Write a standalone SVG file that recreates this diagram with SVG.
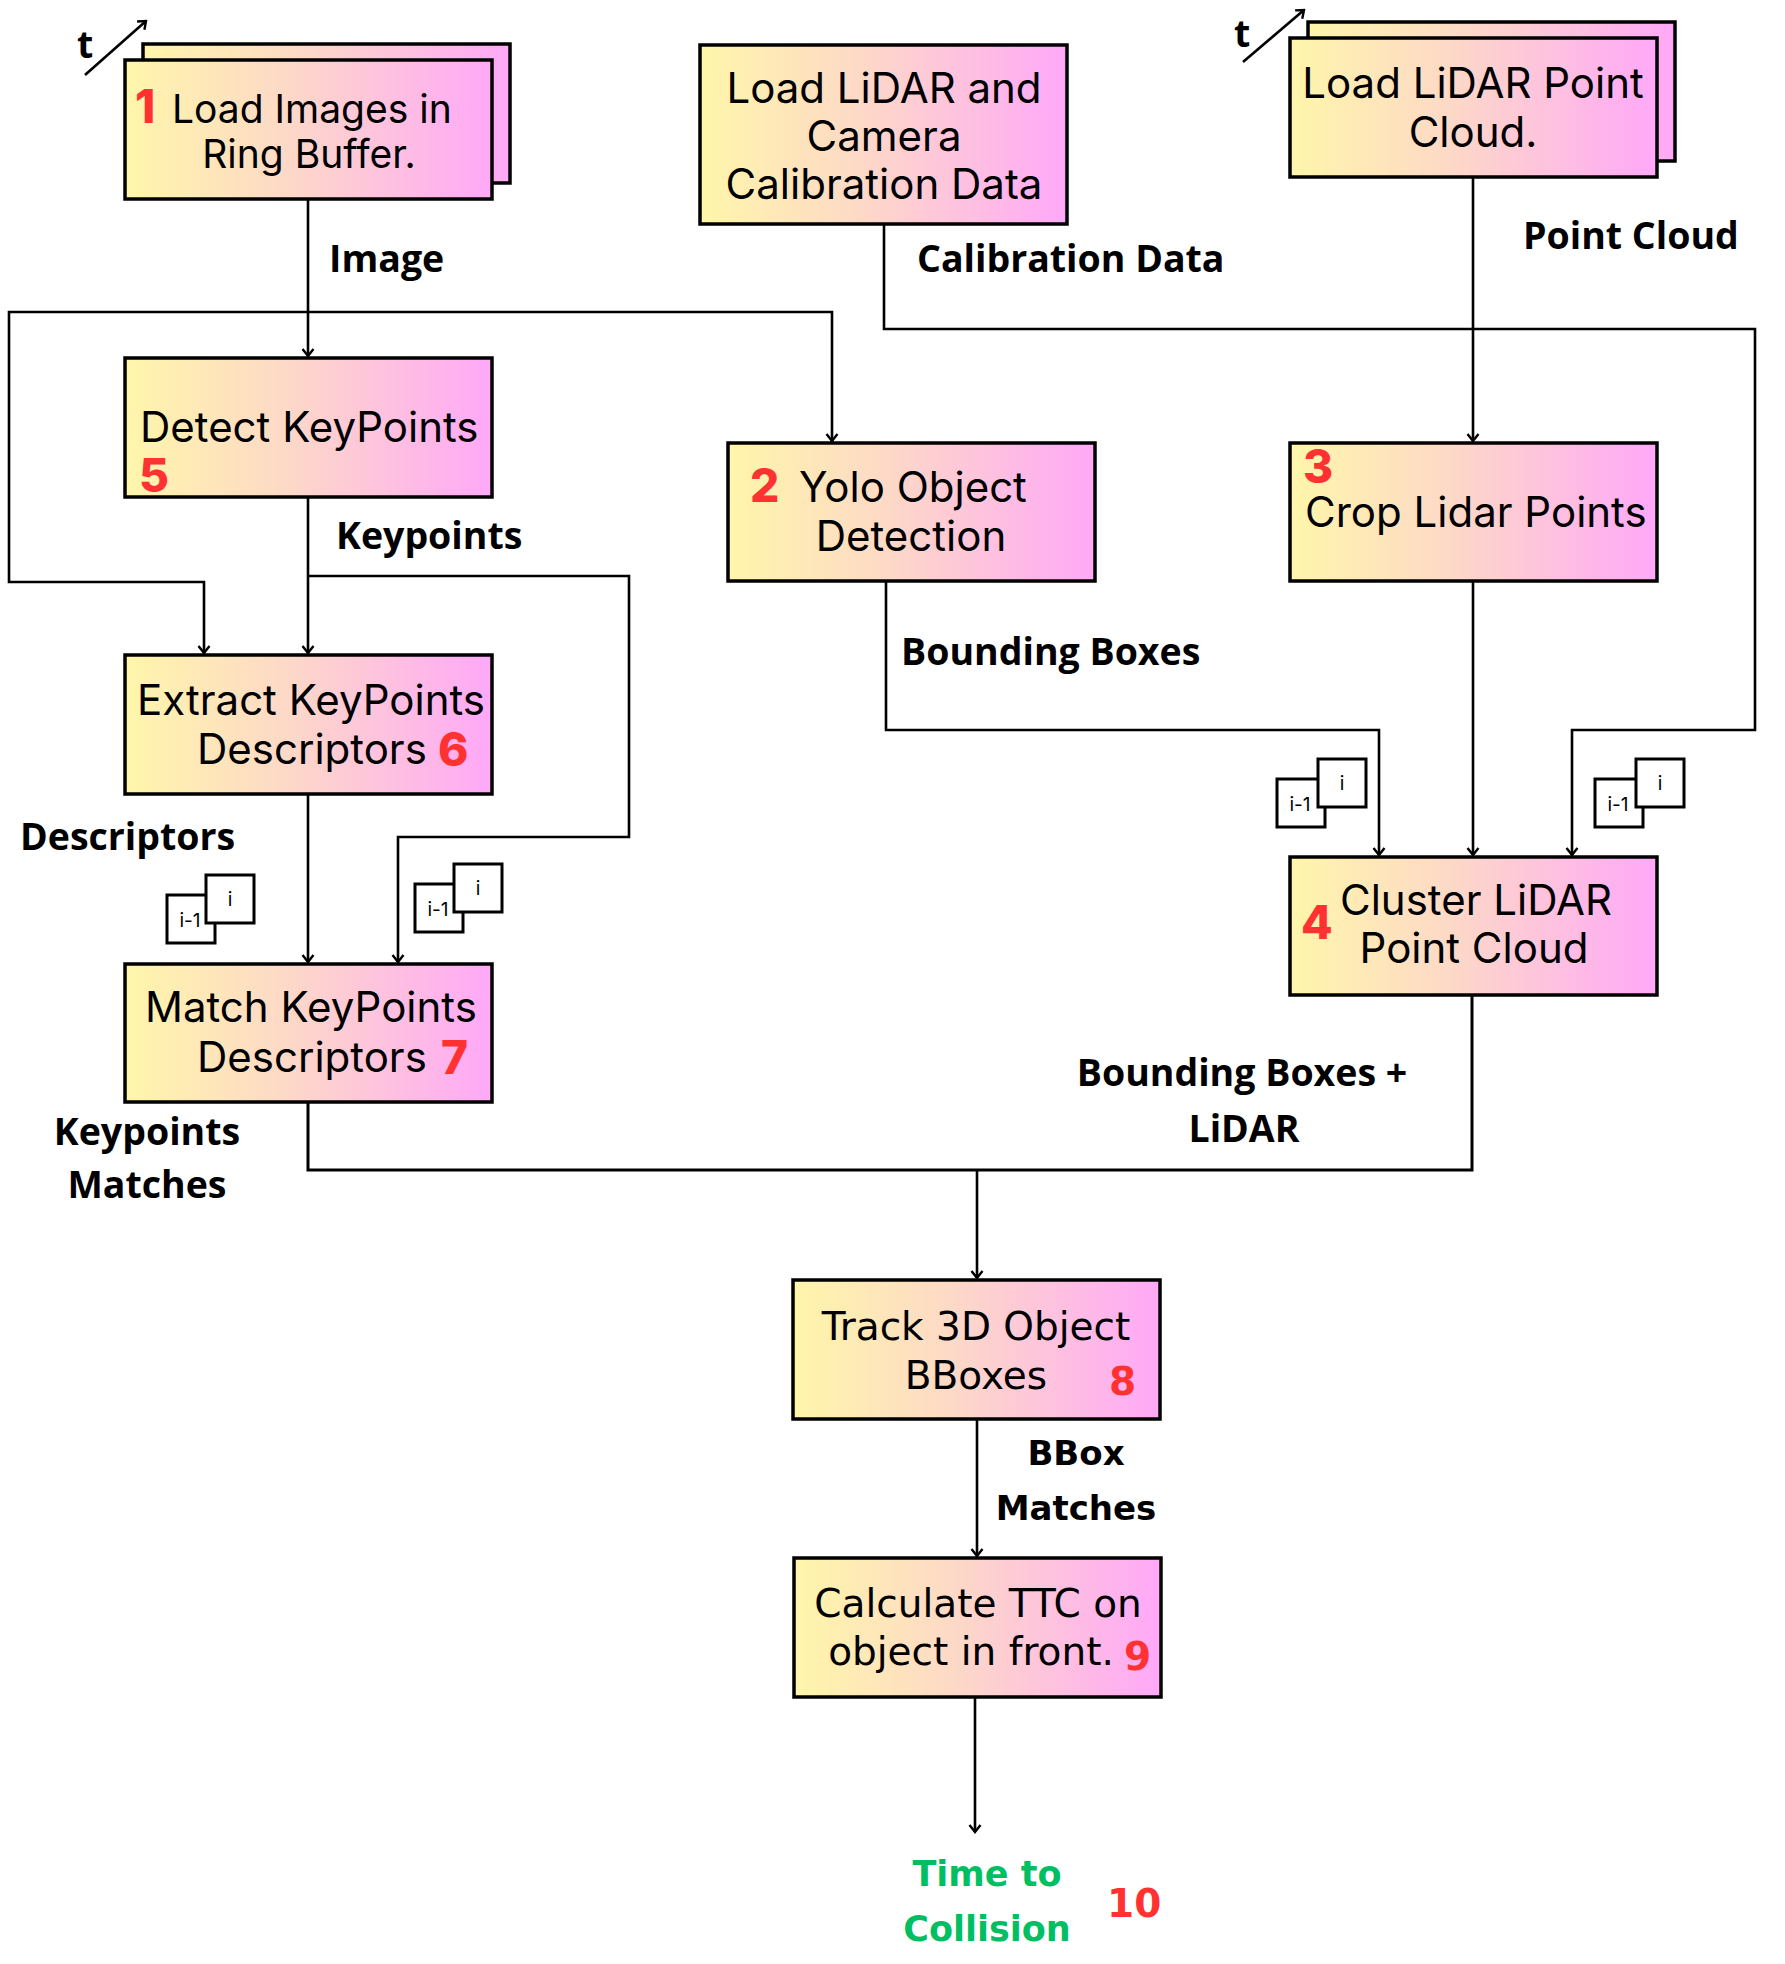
<svg xmlns="http://www.w3.org/2000/svg" width="1785" height="1964" viewBox="0 0 1785 1964">
  <defs>
    <linearGradient id="fill" x1="0" y1="0" x2="1" y2="0">
      <stop offset="0" stop-color="#FFF6AA"/>
      <stop offset="0.45" stop-color="#FDD8C8"/>
      <stop offset="1" stop-color="#FFA8F8"/>
    </linearGradient>
    <marker id="arr" viewBox="-9 -7 11 14" markerWidth="11" markerHeight="14" refX="0" refY="0" orient="auto" markerUnits="userSpaceOnUse">
      <path d="M-7,-5.5 L0,0 L-7,5.5" fill="none" stroke="#000" stroke-width="2.4"/>
    </marker>
  </defs>
  <style>
    .box { fill: url(#fill); stroke: #000; stroke-width: 3.5; }
    .node { font-family: "Inter", "Noto Sans", sans-serif; font-size: 42px; fill: #000; }
    .node-s { font-family: "Inter", "Noto Sans", sans-serif; font-size: 39px; fill: #000; }
    .wide { font-family: "DejaVu Sans", "Noto Sans", sans-serif; font-size: 39px; fill: #000; }
    .num { font-family: "Inter", "Noto Sans", sans-serif; font-weight: 800; font-size: 46px; fill: #FF3131; }
    .wnum { font-family: "DejaVu Sans", sans-serif; font-weight: 700; font-size: 39px; fill: #FF3131; }
    .lbl { font-family: "Open Sans", "Noto Sans", sans-serif; font-weight: 700; font-size: 37.5px; fill: #000; }
    .wlbl { font-family: "DejaVu Sans", sans-serif; font-weight: 700; font-size: 34px; fill: #000; }
    .out { font-family: "DejaVu Sans", sans-serif; font-weight: 700; font-size: 35px; fill: #00BF63; }
    .mid { text-anchor: middle; }
    .wire { fill: none; stroke: #000; stroke-width: 3; }
    .feed { fill: none; stroke: #000; stroke-width: 2.6; marker-end: url(#arr); }
    .fr { fill: #fff; stroke: #000; stroke-width: 3; }
    .fr-t { font-family: "Inter", "Noto Sans", sans-serif; font-size: 19px; fill: #000; text-anchor: middle; }
  </style>

  <rect width="1785" height="1964" fill="#fff"/>

  <!-- connectors -->
  <g id="connectors">
    <path class="feed" d="M308,199 V356"/>
    <path class="feed" d="M308,312 H9 V582 H204 V653"/>
    <path class="feed" d="M308,312 H832 V441"/>
    <path class="feed" d="M308,497 V653"/>
    <path class="feed" d="M308,576 H629 V837 H398 V962"/>
    <path class="feed" d="M308,794 V962"/>
    <path class="feed" d="M884,224 V329 H1755 V730 H1572 V855"/>
    <path class="feed" d="M1473,177 V441"/>
    <path class="feed" d="M1473,581 V855"/>
    <path class="feed" d="M886,581 V730 H1379 V855"/>
    <path class="wire" d="M308,1102 V1170 H1472 V995"/>
    <path class="feed" d="M977,1170 V1278"/>
    <path class="feed" d="M977,1419 V1556"/>
    <path class="feed" d="M975,1697 V1832"/>
    <!-- time axis arrows -->
    <path class="feed" d="M85,75 L146,21"/>
    <path class="feed" d="M1243,62 L1304,10"/>
  </g>

  <!-- edge labels -->
  <g id="labels">
    <text class="lbl" x="77" y="58">t</text>
    <text class="lbl" x="1234" y="47">t</text>
    <text class="lbl" x="329" y="272">Image</text>
    <text class="lbl" x="917" y="272">Calibration Data</text>
    <text class="lbl" x="1523" y="249">Point Cloud</text>
    <text class="lbl" x="336" y="549">Keypoints</text>
    <text class="lbl" x="901" y="665">Bounding Boxes</text>
    <text class="lbl" x="20" y="850">Descriptors</text>
    <text class="lbl mid" x="1242" y="1086">Bounding Boxes +</text>
    <text class="lbl mid" x="1244" y="1142">LiDAR</text>
    <text class="lbl mid" x="147" y="1145">Keypoints</text>
    <text class="lbl mid" x="147" y="1198">Matches</text>
    <text class="wlbl mid" x="1076" y="1465">BBox</text>
    <text class="wlbl mid" x="1076" y="1520">Matches</text>
  </g>

  <!-- frame pairs (previous / current) -->
  <g id="frames-descriptors">
    <rect class="fr" x="167" y="895" width="48" height="48"/>
    <text class="fr-t" x="190" y="927">i-1</text>
    <rect class="fr" x="206" y="875" width="48" height="48"/>
    <text class="fr-t" x="230" y="906">i</text>
  </g>
  <g id="frames-keypoints">
    <rect class="fr" x="415" y="884" width="48" height="48"/>
    <text class="fr-t" x="438" y="916">i-1</text>
    <rect class="fr" x="454" y="864" width="48" height="48"/>
    <text class="fr-t" x="478" y="895">i</text>
  </g>
  <g id="frames-boxes">
    <rect class="fr" x="1277" y="779" width="48" height="48"/>
    <text class="fr-t" x="1300" y="811">i-1</text>
    <rect class="fr" x="1318" y="759" width="48" height="48"/>
    <text class="fr-t" x="1342" y="790">i</text>
  </g>
  <g id="frames-calibration">
    <rect class="fr" x="1595" y="779" width="48" height="48"/>
    <text class="fr-t" x="1618" y="811">i-1</text>
    <rect class="fr" x="1636" y="759" width="48" height="48"/>
    <text class="fr-t" x="1660" y="790">i</text>
  </g>

  <!-- nodes -->
  <g id="load-images">
    <rect class="box" x="143" y="44" width="367" height="139"/>
    <rect class="box" x="125" y="60" width="367" height="139"/>
    <text class="num" x="135" y="123">1</text>
    <text class="node-s" x="172" y="123">Load Images in</text>
    <text class="node-s mid" x="309" y="168">Ring Buffer.</text>
  </g>

  <g id="load-calibration">
    <rect class="box" x="700" y="45" width="367" height="179"/>
    <text class="node mid" x="884" y="103">Load LiDAR and</text>
    <text class="node mid" x="884" y="151">Camera</text>
    <text class="node mid" x="884" y="199">Calibration Data</text>
  </g>

  <g id="load-pointcloud">
    <rect class="box" x="1308" y="22" width="367" height="139"/>
    <rect class="box" x="1290" y="38" width="367" height="139"/>
    <text class="node mid" x="1473" y="98">Load LiDAR Point</text>
    <text class="node mid" x="1473" y="147">Cloud.</text>
  </g>

  <g id="detect-keypoints">
    <rect class="box" x="125" y="358" width="367" height="139"/>
    <text class="node" x="140" y="442">Detect KeyPoints</text>
    <text class="num" x="139" y="492">5</text>
  </g>

  <g id="yolo-detection">
    <rect class="box" x="728" y="443" width="367" height="138"/>
    <text class="num" x="750" y="502">2</text>
    <text class="node" x="799" y="502">Yolo Object</text>
    <text class="node mid" x="911" y="551">Detection</text>
  </g>

  <g id="crop-lidar">
    <rect class="box" x="1290" y="443" width="367" height="138"/>
    <text class="num" x="1303" y="483">3</text>
    <text class="node" x="1305" y="527">Crop Lidar Points</text>
  </g>

  <g id="extract-descriptors">
    <rect class="box" x="125" y="655" width="367" height="139"/>
    <text class="node" x="137" y="715">Extract KeyPoints</text>
    <text class="node" x="197" y="764">Descriptors</text>
    <text class="num" x="438" y="766">6</text>
  </g>

  <g id="cluster-lidar">
    <rect class="box" x="1290" y="857" width="367" height="138"/>
    <text class="num" x="1301" y="939">4</text>
    <text class="node" x="1340" y="915">Cluster LiDAR</text>
    <text class="node mid" x="1474" y="963">Point Cloud</text>
  </g>

  <g id="match-descriptors">
    <rect class="box" x="125" y="964" width="367" height="138"/>
    <text class="node" x="145" y="1022">Match KeyPoints</text>
    <text class="node" x="197" y="1072">Descriptors</text>
    <text class="num" x="441" y="1074">7</text>
  </g>

  <g id="track-bboxes">
    <rect class="box" x="793" y="1280" width="367" height="139"/>
    <text class="wide mid" x="976" y="1340">Track 3D Object</text>
    <text class="wide mid" x="976" y="1389">BBoxes</text>
    <text class="wnum" x="1109" y="1395">8</text>
  </g>

  <g id="compute-ttc">
    <rect class="box" x="794" y="1558" width="367" height="139"/>
    <text class="wide mid" x="978" y="1617">Calculate TTC on</text>
    <text class="wide mid" x="971" y="1665">object in front.</text>
    <text class="wnum" x="1124" y="1670">9</text>
  </g>

  <g id="ttc-output">
    <text class="out mid" x="987" y="1886">Time to</text>
    <text class="out mid" x="987" y="1941">Collision</text>
    <text class="wnum" x="1107" y="1917">10</text>
  </g>
</svg>
